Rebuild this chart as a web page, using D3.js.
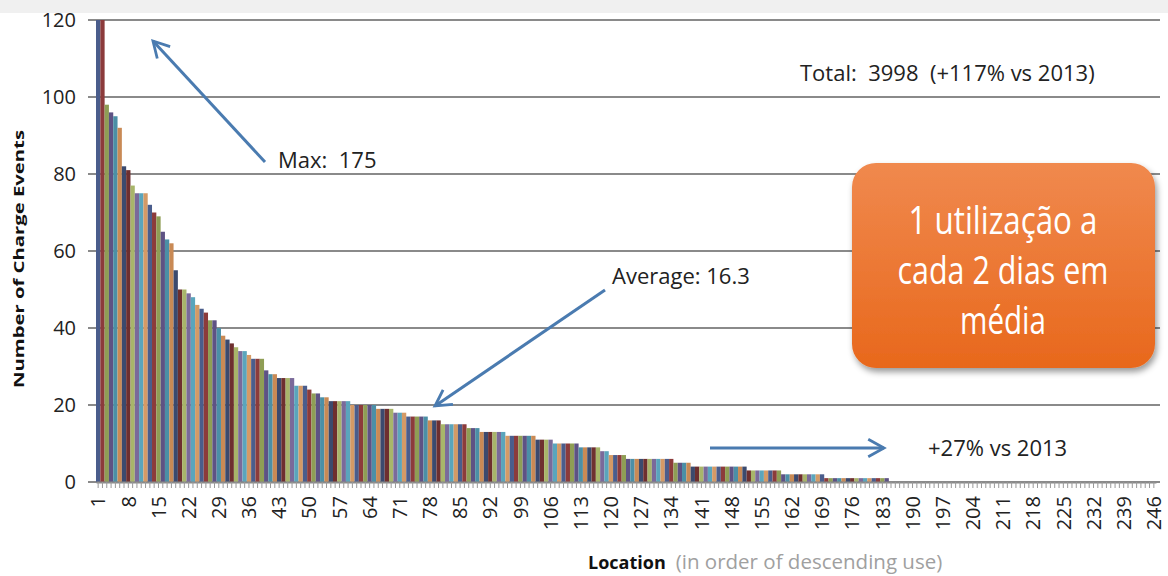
<!DOCTYPE html>
<html lang="pt">
<head>
  <meta charset="UTF-8">
  <title>Charge events by location</title>
  <script src="https://d3js.org/d3.v7.min.js"></script>
  <style>
    body { margin: 0; background: #fff; font-family: 'Open Sans', sans-serif; }
    svg { display: block; }
  </style>
</head>
<body>
  <svg width="1168" height="576"></svg>

  <script>
    // charge events per location, sorted descending (bar 1 = 175, clipped at 120)
    const events = [
      175, 130, 98, 96, 95, 92, 82, 81, 77, 75, 75, 75, 72, 70, 69, 65, 63, 62, 55, 50,
      50, 49, 48, 46, 45, 44, 42, 42, 40, 38, 37, 36, 35, 34, 34, 33, 32, 32, 32, 29,
      28, 28, 27, 27, 27, 27, 25, 25, 25, 24, 23, 23, 22, 22, 21, 21, 21, 21, 21, 20,
      20, 20, 20, 20, 20, 19, 19, 19, 19, 18, 18, 18, 17, 17, 17, 17, 17, 16, 16, 16,
      15, 15, 15, 15, 15, 15, 14, 14, 14, 13, 13, 13, 13, 13, 13, 12, 12, 12, 12, 12,
      12, 12, 11, 11, 11, 11, 10, 10, 10, 10, 10, 10, 9, 9, 9, 9, 9, 8, 8, 7,
      7, 7, 7, 6, 6, 6, 6, 6, 6, 6, 6, 6, 6, 6, 5, 5, 5, 5, 4, 4,
      4, 4, 4, 4, 4, 4, 4, 4, 4, 4, 4, 3, 3, 3, 3, 3, 3, 3, 3, 2,
      2, 2, 2, 2, 2, 2, 2, 2, 2, 1, 1, 1, 1, 1, 1, 1, 1, 1, 1, 1,
      1, 1, 1, 1
    ];
    const nLocations = 246;
    const locations = d3.range(1, nLocations + 1);
    const yTicks = [0, 20, 40, 60, 80, 100, 120];
    const palette = ["#4a5d8c", "#8c3b3b", "#8f9e55", "#5e5284", "#4b8fa6", "#c98a55",
                     "#3b4a6e", "#6e2f2f", "#a8b56a", "#7a6a9a", "#5aa5bc", "#d49a66"];

    const svg = d3.select("svg");

    // cropped slide title strip
    svg.append("rect").attr("x", 0).attr("y", 0).attr("width", 1168).attr("height", 13)
      .attr("fill", "#f0f0f0");

    const x = d3.scaleBand().domain(locations).range([96, 1156]).padding(0);
    const y = d3.scaleLinear().domain([0, 120]).range([482, 20]);

    // gridlines
    svg.append("g").selectAll("line").data(yTicks).join("line")
      .attr("x1", 88).attr("x2", 1160)
      .attr("y1", d => y(d)).attr("y2", d => y(d))
      .attr("stroke", "#8a8a8a").attr("stroke-width", 2);

    // y labels
    svg.append("g").selectAll("text").data(yTicks).join("text")
      .attr("x", 76).attr("y", d => y(d)).attr("dy", "0.36em")
      .attr("text-anchor", "end")
      .attr("font-size", 20).attr("fill", "#222")
      .text(d => d);

    // bars
    svg.append("g").selectAll("rect").data(locations).join("rect")
      .attr("x", d => x(d))
      .attr("width", x.bandwidth())
      .attr("y", d => y(Math.min(events[d - 1] || 0, 120)))
      .attr("height", d => y(0) - y(Math.min(events[d - 1] || 0, 120)))
      .attr("fill", (d, i) => palette[i % palette.length]);

    // x axis
    const xAxis = svg.append("g")
      .attr("transform", `translate(0,${y(0)})`)
      .call(d3.axisBottom(x).tickSize(6).tickSizeOuter(0)
        .tickFormat(d => (d - 1) % 7 === 0 ? d : ""));
    xAxis.select(".domain").attr("stroke", "#8a8a8a").attr("stroke-width", 2);
    xAxis.selectAll(".tick line").attr("stroke", "#999");
    xAxis.selectAll(".tick text")
      .attr("transform", "rotate(-90)")
      .attr("text-anchor", "end")
      .attr("x", -14).attr("y", 0).attr("dy", "0.36em")
      .attr("font-size", 20).attr("fill", "#222")
      .attr("font-family", "'Open Sans', sans-serif");

    // axis titles
    svg.append("text")
      .attr("transform", "translate(24,259) rotate(-90)")
      .attr("text-anchor", "middle")
      .attr("font-family", "'Open Sans', sans-serif")
      .attr("font-weight", "bold").attr("font-size", 15).attr("fill", "#111")
      .attr("textLength", 258).attr("lengthAdjust", "spacingAndGlyphs")
      .text("Number of Charge Events");

    const xt = svg.append("text").attr("x", 588).attr("y", 569)
      .attr("font-family", "'Open Sans', sans-serif");
    xt.append("tspan").attr("font-weight", "bold").attr("font-size", 18)
      .attr("fill", "#111").text("Location");
    xt.append("tspan").attr("fill", "#a0a0a0").attr("font-size", 20.5)
      .attr("dx", 10).text("(in order of descending use)");

    // arrows
    const defs = svg.append("defs");
    defs.append("marker").attr("id", "head")
      .attr("viewBox", "0 0 12 12").attr("refX", 10).attr("refY", 6)
      .attr("markerWidth", 7).attr("markerHeight", 7).attr("orient", "auto")
      .attr("markerUnits", "strokeWidth")
      .append("path").attr("d", "M1,1 L10,6 L1,11")
      .attr("fill", "none").attr("stroke", "#4a7bb0").attr("stroke-width", 1.6);

    const arrows = [
      [265, 162, 153, 41],
      [605, 290, 435, 406],
      [710, 448, 884, 448]
    ];
    svg.append("g").selectAll("line").data(arrows).join("line")
      .attr("x1", d => d[0]).attr("y1", d => d[1])
      .attr("x2", d => d[2]).attr("y2", d => d[3])
      .attr("stroke", "#4a7bb0").attr("stroke-width", 3)
      .attr("marker-end", "url(#head)");

    // annotation texts
    const notes = [
      { x: 278, y: 168, t: "Max:  175" },
      { x: 612, y: 284, t: "Average: 16.3" },
      { x: 928, y: 456, t: "+27% vs 2013" },
      { x: 800, y: 81, t: "Total:  3998  (+117% vs 2013)" }
    ];
    svg.append("g").selectAll("text").data(notes).join("text")
      .attr("x", d => d.x).attr("y", d => d.y)
      .attr("font-size", 22).attr("fill", "#222")
      .attr("xml:space", "preserve")
      .style("white-space", "pre")
      .text(d => d.t);

    // orange callout
    const grad = defs.append("linearGradient").attr("id", "org")
      .attr("x1", 0).attr("y1", 0).attr("x2", 0).attr("y2", 1);
    grad.append("stop").attr("offset", 0).attr("stop-color", "#f0894e");
    grad.append("stop").attr("offset", 1).attr("stop-color", "#e8681c");
    const shadow = defs.append("filter").attr("id", "shd")
      .attr("x", -0.1).attr("y", -0.1).attr("width", 1.2).attr("height", 1.3);
    shadow.append("feDropShadow").attr("dx", 2).attr("dy", 4).attr("stdDeviation", 3)
      .attr("flood-color", "#000").attr("flood-opacity", 0.4);

    svg.append("rect")
      .attr("x", 852).attr("y", 163).attr("width", 303).attr("height", 205)
      .attr("rx", 24).attr("fill", "url(#org)").attr("filter", "url(#shd)");

    const calloutLines = ["1 utilização a", "cada 2 dias em", "média"];
    const calloutWidths = [189, 211, 86];
    svg.append("g").selectAll("text").data(calloutLines).join("text")
      .attr("x", 1003).attr("y", (d, i) => 234 + i * 50)
      .attr("text-anchor", "middle")
      .attr("font-family", "'Open Sans', sans-serif")
      .attr("font-size", 38).attr("fill", "#fff")
      .attr("textLength", (d, i) => calloutWidths[i])
      .attr("lengthAdjust", "spacingAndGlyphs")
      .text(d => d);
  </script>
</body>
</html>
